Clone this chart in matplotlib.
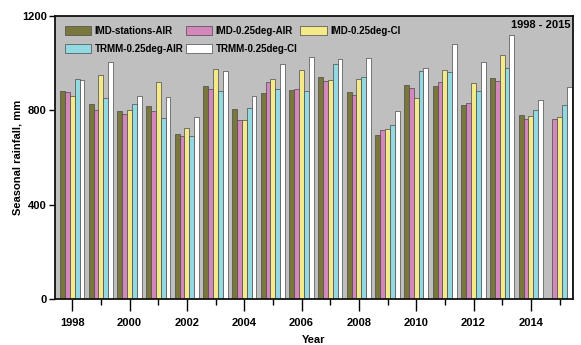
import matplotlib
matplotlib.use("Agg")
import matplotlib.pyplot as plt
import numpy as np
from matplotlib import font_manager

years = list(range(1998, 2016))
imd_stations_air = [881, 827, 797, 817, 699, 902, 807, 874, 888, 942, 878, 696, 909, 902, 823, 937, 780, np.nan]
imd_025_air      = [876, 803, 783, 798, 692, 892, 760, 921, 889, 924, 867, 717, 895, 920, 830, 924, 764, 763]
imd_025_ci       = [861, 951, 801, 922, 724, 976, 757, 935, 973, 927, 935, 720, 852, 969, 917, 1033, 778, 773]
trmm_025_air     = [931, 854, 828, 767, 692, 880, 810, 891, 882, 995, 942, 737, 968, 962, 884, 978, 800, 821]
trmm_025_ci      = [927, 1005, 861, 855, 770, 968, 860, 998, 1028, 1018, 1023, 797, 979, 1083, 1006, 1119, 842, 900]

series = [imd_stations_air, imd_025_air, imd_025_ci, trmm_025_air, trmm_025_ci]
labels = ["IMD-stations-AIR", "IMD-0.25deg-AIR", "IMD-0.25deg-CI", "TRMM-0.25deg-AIR", "TRMM-0.25deg-CI"]
colors = ["#7a773c", "#d487bd", "#f4ea8a", "#93d9e2", "#ffffff"]

names = {f.name for f in font_manager.fontManager.ttflist}
fam = "Liberation Sans Narrow" if "Liberation Sans Narrow" in names else "Liberation Sans"
plt.rcParams["font.family"] = [fam, "DejaVu Sans"]
plt.rcParams["font.weight"] = "bold"

fig = plt.figure(figsize=(5.81, 3.45), dpi=100)
ax = fig.add_axes([0.0947, 0.1333, 0.8915, 0.8203])
ax.set_facecolor("#bfbfbf")

w = 0.17
x = np.array(years, dtype=float)
handles = []
for i, (s, c, l) in enumerate(zip(series, colors, labels)):
    b = ax.bar(x + (i - 2) * w, s, width=w, color=c, edgecolor="#4a4a4a", linewidth=0.5, label=l)
    handles.append(b)

ax.set_xlim(1997.40, 2015.47)
ax.set_ylim(0, 1200)
ax.set_yticks([0, 400, 800, 1200])
ax.set_xticks(range(1998, 2016, 2))
ax.set_xticks(range(1998, 2016), minor=True)
ax.tick_params(axis="y", which="major", labelsize=8, direction="out", length=4, width=1, pad=2)
ax.tick_params(axis="x", which="major", labelsize=8, direction="out", length=8.5, width=1, pad=5)
ax.tick_params(axis="x", which="minor", direction="out", length=4.5, width=1)
for lab in ax.get_xticklabels() + ax.get_yticklabels():
    lab.set_fontweight("bold")
for sp in ax.spines.values():
    sp.set_linewidth(1.3)
    sp.set_color("#111111")

ax.set_ylabel("Seasonal rainfall, mm", fontsize=8, fontweight="bold")
ax.yaxis.set_label_coords(-0.062, 0.5)
ax.set_xlabel("Year", fontsize=8, fontweight="bold", labelpad=5)

order = [0, 3, 1, 4, 2]
leg = ax.legend([handles[k] for k in order], [labels[k] for k in order], ncol=3,
                loc="upper left", bbox_to_anchor=(0.0, 1.0), frameon=False,
                fontsize=7, handlelength=2.7, handleheight=1.1, columnspacing=0.3,
                handletextpad=0.35, labelspacing=0.85, borderaxespad=0.6)
for t in leg.get_texts():
    t.set_fontweight("bold")

ax.text(0.996, 0.985, "1998 - 2015", transform=ax.transAxes, ha="right", va="top",
        fontsize=8, fontweight="bold")

fig.savefig("out.png", dpi=100)
